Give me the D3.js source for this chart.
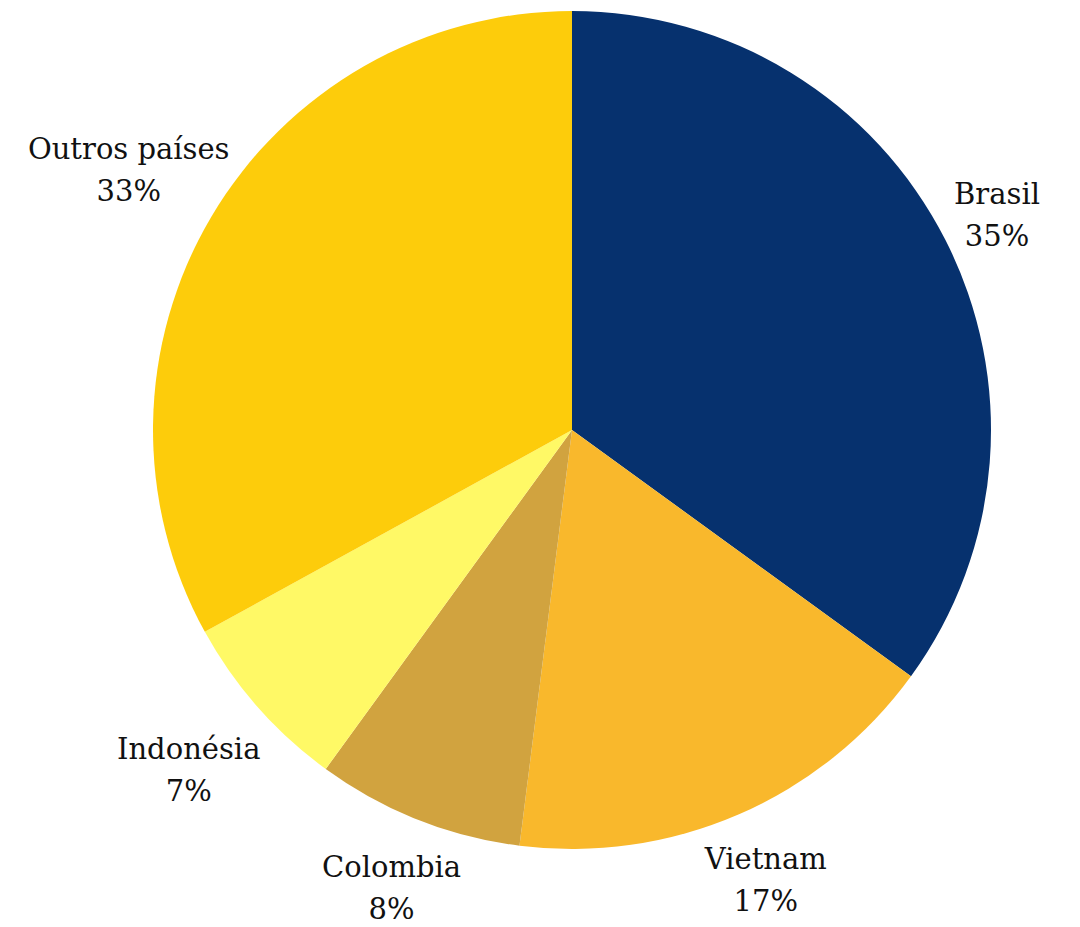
<!DOCTYPE html>
<html>
<head>
<meta charset="utf-8">
<script src="https://cdn.jsdelivr.net/npm/d3@7"></script>
<style>
  body { margin: 0; background: #fff; }
  .pie-label { font-family: "DejaVu Serif", Georgia, serif; font-size: 29px; fill: #111; }
</style>
</head>
<body>
<div id="chart"></div>
<script>
// data
var countries = ["Brasil", "Vietnam", "Colombia", "Indonésia", "Outros países"];
var shares = [35, 17, 8, 7, 33];
var colors = ["#06316e", "#f9b82c", "#d1a33f", "#fff966", "#fdcc0b"];

// how far past the rim each label's centre sits (layout, not data)
var labelOffset = [58, 69, 71, 92, 96];

var width = 1080, height = 927;
var cx = 572, cy = 430, radius = 419;

var svg = d3.select("#chart")
  .append("svg")
    .attr("width", width)
    .attr("height", height);

var g = svg.append("g")
    .attr("transform", "translate(" + cx + "," + cy + ")");

var pie = d3.pie().sort(null).value(function(d) { return d; });
var arcs = pie(shares);

var arc = d3.arc().innerRadius(0).outerRadius(radius);

g.selectAll("path")
  .data(arcs)
  .enter()
  .append("path")
    .attr("d", arc)
    .attr("fill", function(d, i) { return colors[i]; });

// labels outside the rim, along the middle of each slice
var labels = g.selectAll("text.pie-label")
  .data(arcs)
  .enter()
  .append("text")
    .attr("class", "pie-label")
    .attr("text-anchor", "middle")
    .attr("transform", function(d, i) {
      var r = radius + labelOffset[i];
      var c = d3.arc().innerRadius(r).outerRadius(r).centroid(d);
      return "translate(" + c[0] + "," + c[1] + ")";
    });

labels.append("tspan")
    .attr("x", 0)
    .attr("y", -9)
    .text(function(d, i) { return countries[i]; });

labels.append("tspan")
    .attr("x", 0)
    .attr("y", 33)
    .text(function(d, i) { return shares[i] + "%"; });
</script>
</body>
</html>
